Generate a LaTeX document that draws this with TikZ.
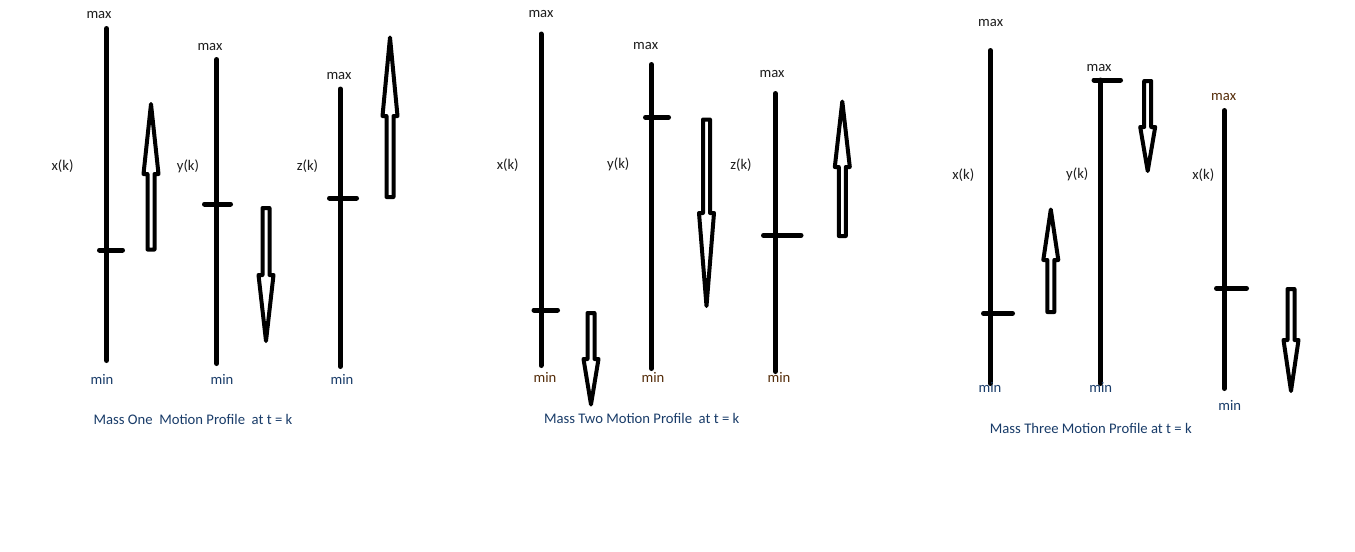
\documentclass[tikz,border=0pt]{standalone}
\usepackage{fontspec}
\setmainfont{Carlito}
\usepackage{tikz}

\definecolor{minblue}{RGB}{25,60,105}
\definecolor{minbrown}{RGB}{85,45,10}
\definecolor{lbldark}{RGB}{30,30,30}

\tikzset{
    axisline/.style={line width=3.75pt, line cap=round},
    tickline/.style={line width=3.75pt, line cap=round},
    arrowbox/.style={line width=3pt, line join=round},
    lbl/.style={inner sep=0pt, font=\fontsize{11pt}{13pt}\selectfont, text=lbldark}
}

% hollow block arrow: centre x, tail y, head base y, tip y
\newcommand{\hollowarrow}[4]{%
    \draw[arrowbox] (#1-3.5,#2) -- (#1-3.5,#3) -- (#1-7.5,#3) -- (#1,#4)
        -- (#1+7.5,#3) -- (#1+3.5,#3) -- (#1+3.5,#2) -- cycle;}

\begin{document}
\begin{tikzpicture}[x=0.75pt, y=-0.75pt]
    \useasboundingbox[fill=white] (0,0) rectangle (1355,551);

    % Mass one
    \draw[axisline] (106.5,28.5) -- (106.5,360.5);
    \draw[tickline] (99.5,250) -- (122.5,250);
    \node[lbl] (maxA) at (99,15) {max};
    \node[lbl, text=minblue] (minA) at (102,379) {min};
    \node[lbl] (xA) at (62.5,166) {x(k)};
    \hollowarrow{151}{249.5}{174}{104}

    \draw[axisline] (216.7,59.5) -- (216.7,363.5);
    \draw[tickline] (204.5,204) -- (230.5,204);
    \node[lbl] (maxB) at (210,47) {max};
    \node[lbl, text=minblue] (minB) at (222,379) {min};
    \node[lbl] (yB) at (188,166) {y(k)};
    \hollowarrow{266}{208}{275}{341}

    \draw[axisline] (340.3,89) -- (340.3,366.5);
    \draw[tickline] (329.5,198) -- (356.5,198);
    \node[lbl] (maxC) at (339,76) {max};
    \node[lbl, text=minblue] (minC) at (342,379) {min};
    \node[lbl] (zC) at (307.5,166) {z(k)};
    \hollowarrow{390}{197}{116}{37.5}

    \node[lbl, text=minblue] (capOne) at (193,419) {Mass One\ \ Motion Profile\ \ at t = k};

    % Mass two
    \draw[axisline] (541,34) -- (541,365.5);
    \draw[tickline] (534,310) -- (557.5,310);
    \node[lbl] (maxD) at (541,13.7) {max};
    \node[lbl, text=minbrown] (minD) at (545,377.7) {min};
    \node[lbl] (xD) at (507.7,164.7) {x(k)};
    \hollowarrow{591}{313}{359}{404.5}

    \draw[axisline] (651.3,64.5) -- (651.3,368.5);
    \draw[tickline] (645.5,117.3) -- (668.5,117.3);
    \node[lbl] (maxE) at (645.7,45.7) {max};
    \node[lbl, text=minbrown] (minE) at (653,377.7) {min};
    \node[lbl] (yE) at (618.3,164.7) {y(k)};
    \hollowarrow{706.5}{119.5}{213}{306}

    \draw[axisline] (775.3,93.5) -- (775.3,371.5);
    \draw[tickline] (763.5,235.3) -- (801,235.3);
    \node[lbl] (maxF) at (772,74.3) {max};
    \node[lbl, text=minbrown] (minF) at (779,377.7) {min};
    \node[lbl] (zF) at (741,164.7) {z(k)};
    \hollowarrow{842.3}{236}{167}{101.5}

    \node[lbl, text=minblue] (capTwo) at (641.7,418.3) {Mass Two Motion Profile\ \ at t = k};

    % Mass three
    \draw[axisline] (990.3,50.5) -- (990.3,383.5);
    \draw[tickline] (983.5,313.3) -- (1012.5,313.3);
    \node[lbl] (maxG) at (990.7,23.3) {max};
    \node[lbl, text=minblue] (minG) at (990,387.7) {min};
    \node[lbl] (xG) at (963.3,174.7) {x(k)};
    \hollowarrow{1050.8}{312}{260}{209.5}

    \draw[axisline] (1100.3,80) -- (1100.3,383.5);
    \draw[tickline] (1094,80) -- (1120.5,80);
    \node[lbl] (maxH) at (1099,67.7) {max};
    \node[lbl, text=minblue] (minH) at (1100.7,387.7) {min};
    \node[lbl] (yH) at (1077.3,174.7) {y(k)};
    \hollowarrow{1147.7}{81}{127}{171}

    \draw[axisline] (1224.3,110.5) -- (1224.3,388.5);
    \draw[tickline] (1216.5,288.3) -- (1246.5,288.3);
    \node[lbl, text=minbrown] (maxI) at (1223.7,96.7) {max};
    \node[lbl, text=minblue] (minI) at (1229.7,405.7) {min};
    \node[lbl] (xI) at (1203.3,174.7) {x(k)};
    \hollowarrow{1291}{289}{340}{391}

    \node[lbl, text=minblue] (capThree) at (1090.8,428.3) {Mass Three Motion Profile at t = k};
\end{tikzpicture}
\end{document}
